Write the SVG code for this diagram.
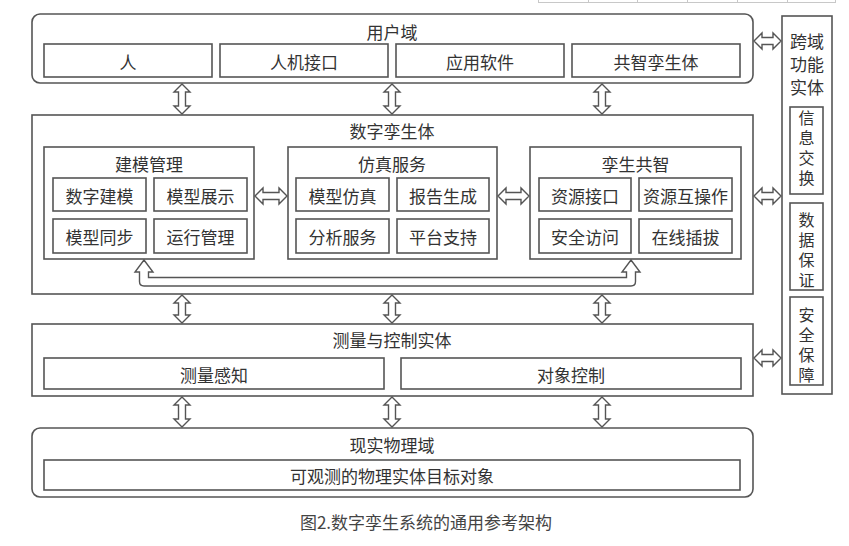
<svg xmlns="http://www.w3.org/2000/svg" width="849" height="546" viewBox="0 0 849 546">
<style>
.box{fill:#fff;stroke:#555;stroke-width:1.6}
.arr{fill:#fff;stroke:#555;stroke-width:1.4;stroke-linejoin:miter}
.t{font-family:"Noto Sans CJK SC","Noto Sans",sans-serif;font-size:17px;fill:#333;text-anchor:middle;dominant-baseline:central}
.v{font-family:"Noto Sans CJK SC","Noto Sans",sans-serif;font-size:16px;fill:#333;text-anchor:middle;writing-mode:vertical-rl;letter-spacing:4px}
.cap{font-family:"Noto Sans CJK SC","Noto Sans",sans-serif;font-size:17px;fill:#444;text-anchor:middle;dominant-baseline:central}
.tbl{stroke:#c8c8c8;stroke-width:1;fill:none}
</style>
<rect width="849" height="546" fill="#fff"/>
<g id="table-fragment">
<path class="tbl" d="M538,2.5H836 M538.5,0V3 M588.5,0V3 M637.5,0V3 M687.5,0V3 M737.5,0V3 M787.5,0V3 M835.5,0V3"/>
</g>
<g id="user-domain">
<rect class="box" x="32" y="14" width="721" height="69" rx="8"/>
<text class="t" x="392" y="31">用户域</text>
<rect class="box" x="44" y="44" width="168" height="33"/><text class="t" x="128" y="61">人</text>
<rect class="box" x="220" y="44" width="168" height="33"/><text class="t" x="304" y="61">人机接口</text>
<rect class="box" x="396" y="44" width="168" height="33"/><text class="t" x="480" y="61">应用软件</text>
<rect class="box" x="572" y="44" width="168" height="33"/><text class="t" x="656" y="61">共智孪生体</text>
</g>
<g id="digital-twin">
<rect class="box" x="32" y="115" width="721" height="179"/>
<text class="t" x="392" y="130">数字孪生体</text>
</g>
<g id="modeling-mgmt">
<rect class="box" x="44" y="147" width="210" height="112"/>
<text class="t" x="149" y="163">建模管理</text>
<rect class="box" x="53" y="178" width="93" height="33"/><text class="t" x="99.5" y="195.5">数字建模</text>
<rect class="box" x="154" y="178" width="93" height="33"/><text class="t" x="200.5" y="195.5">模型展示</text>
<rect class="box" x="53" y="219" width="93" height="34"/><text class="t" x="99.5" y="236">模型同步</text>
<rect class="box" x="154" y="219" width="93" height="34"/><text class="t" x="200.5" y="236">运行管理</text>
</g>
<g id="sim-service">
<rect class="box" x="288" y="147" width="209" height="112"/>
<text class="t" x="392" y="163">仿真服务</text>
<rect class="box" x="296" y="178" width="93" height="33"/><text class="t" x="342.5" y="195.5">模型仿真</text>
<rect class="box" x="397" y="178" width="92" height="33"/><text class="t" x="443" y="195.5">报告生成</text>
<rect class="box" x="296" y="219" width="93" height="34"/><text class="t" x="342.5" y="236">分析服务</text>
<rect class="box" x="397" y="219" width="92" height="34"/><text class="t" x="443" y="236">平台支持</text>
</g>
<g id="twin-intelligence">
<rect class="box" x="530" y="147" width="211" height="112"/>
<text class="t" x="635.5" y="163">孪生共智</text>
<rect class="box" x="539" y="178" width="92" height="33"/><text class="t" x="585" y="195.5">资源接口</text>
<rect class="box" x="639" y="178" width="93" height="33"/><text class="t" x="685.5" y="195.5">资源互操作</text>
<rect class="box" x="539" y="219" width="92" height="34"/><text class="t" x="585" y="236">安全访问</text>
<rect class="box" x="639" y="219" width="93" height="34"/><text class="t" x="685.5" y="236">在线插拔</text>
</g>
<g id="measure-control">
<rect class="box" x="32" y="324" width="721" height="72"/>
<text class="t" x="392" y="339">测量与控制实体</text>
<rect class="box" x="44" y="358" width="340" height="31"/><text class="t" x="214" y="374">测量感知</text>
<rect class="box" x="401" y="358" width="340" height="31"/><text class="t" x="571" y="374">对象控制</text>
</g>
<g id="physical-domain">
<rect class="box" x="32" y="428" width="721" height="69" rx="8"/>
<text class="t" x="392" y="444">现实物理域</text>
<rect class="box" x="44" y="460" width="696" height="30"/><text class="t" x="392" y="475">可观测的物理实体目标对象</text>
</g>
<g id="cross-domain">
<rect class="box" x="782" y="16" width="50" height="378"/>
<text class="t" x="807" y="40">跨域</text>
<text class="t" x="807" y="63">功能</text>
<text class="t" x="807" y="86">实体</text>
<rect class="box" x="790" y="107" width="33" height="87"/>
<text class="v" x="806.5" y="150">信息交换</text>
<rect class="box" x="790" y="203" width="33" height="87"/>
<text class="v" x="806.5" y="252">数据保证</text>
<rect class="box" x="790" y="297" width="33" height="88"/>
<text class="v" x="806.5" y="347">安全保障</text>
</g>
<g id="connectors">
<path class="arr" d="M182,84 L190,92 L185.5,92 L185.5,106 L190,106 L182,114 L174,106 L178.5,106 L178.5,92 L174,92 Z"/>
<path class="arr" d="M392,84 L400,92 L395.5,92 L395.5,106 L400,106 L392,114 L384,106 L388.5,106 L388.5,92 L384,92 Z"/>
<path class="arr" d="M602,84 L610,92 L605.5,92 L605.5,106 L610,106 L602,114 L594,106 L598.5,106 L598.5,92 L594,92 Z"/>
<path class="arr" d="M182,295 L190,303 L185.5,303 L185.5,315 L190,315 L182,323 L174,315 L178.5,315 L178.5,303 L174,303 Z"/>
<path class="arr" d="M392,295 L400,303 L395.5,303 L395.5,315 L400,315 L392,323 L384,315 L388.5,315 L388.5,303 L384,303 Z"/>
<path class="arr" d="M602,295 L610,303 L605.5,303 L605.5,315 L610,315 L602,323 L594,315 L598.5,315 L598.5,303 L594,303 Z"/>
<path class="arr" d="M182,397 L190,405 L185.5,405 L185.5,419 L190,419 L182,427 L174,419 L178.5,419 L178.5,405 L174,405 Z"/>
<path class="arr" d="M392,397 L400,405 L395.5,405 L395.5,419 L400,419 L392,427 L384,419 L388.5,419 L388.5,405 L384,405 Z"/>
<path class="arr" d="M602,397 L610,405 L605.5,405 L605.5,419 L610,419 L602,427 L594,419 L598.5,419 L598.5,405 L594,405 Z"/>
<path class="arr" d="M255,196 L263,188 L263,192.5 L279,192.5 L279,188 L287,196 L279,204 L279,199.5 L263,199.5 L263,204 Z"/>
<path class="arr" d="M498,196 L506,188 L506,192.5 L521,192.5 L521,188 L529,196 L521,204 L521,199.5 L506,199.5 L506,204 Z"/>
<path class="arr" d="M754,41 L762,33 L762,37.5 L773,37.5 L773,33 L781,41 L773,49 L773,44.5 L762,44.5 L762,49 Z"/>
<path class="arr" d="M754,196 L762,188 L762,192.5 L773,192.5 L773,188 L781,196 L773,204 L773,199.5 L762,199.5 L762,204 Z"/>
<path class="arr" d="M754,358 L762,350 L762,354.5 L773,354.5 L773,350 L781,358 L773,366 L773,361.5 L762,361.5 L762,366 Z"/>
<path class="arr" d="M144,260 L153,272 L148.5,272 L148.5,277.5 L626.5,277.5 L626.5,272 L622,272 L631,260 L640,272 L635.5,272 L635.5,281.5 Q635.5,286 631,286 L144,286 Q139.5,286 139.5,281.5 L139.5,272 L135,272 Z"/>
</g>
<text class="cap" x="426" y="521">图2.数字孪生系统的通用参考架构</text>
</svg>
